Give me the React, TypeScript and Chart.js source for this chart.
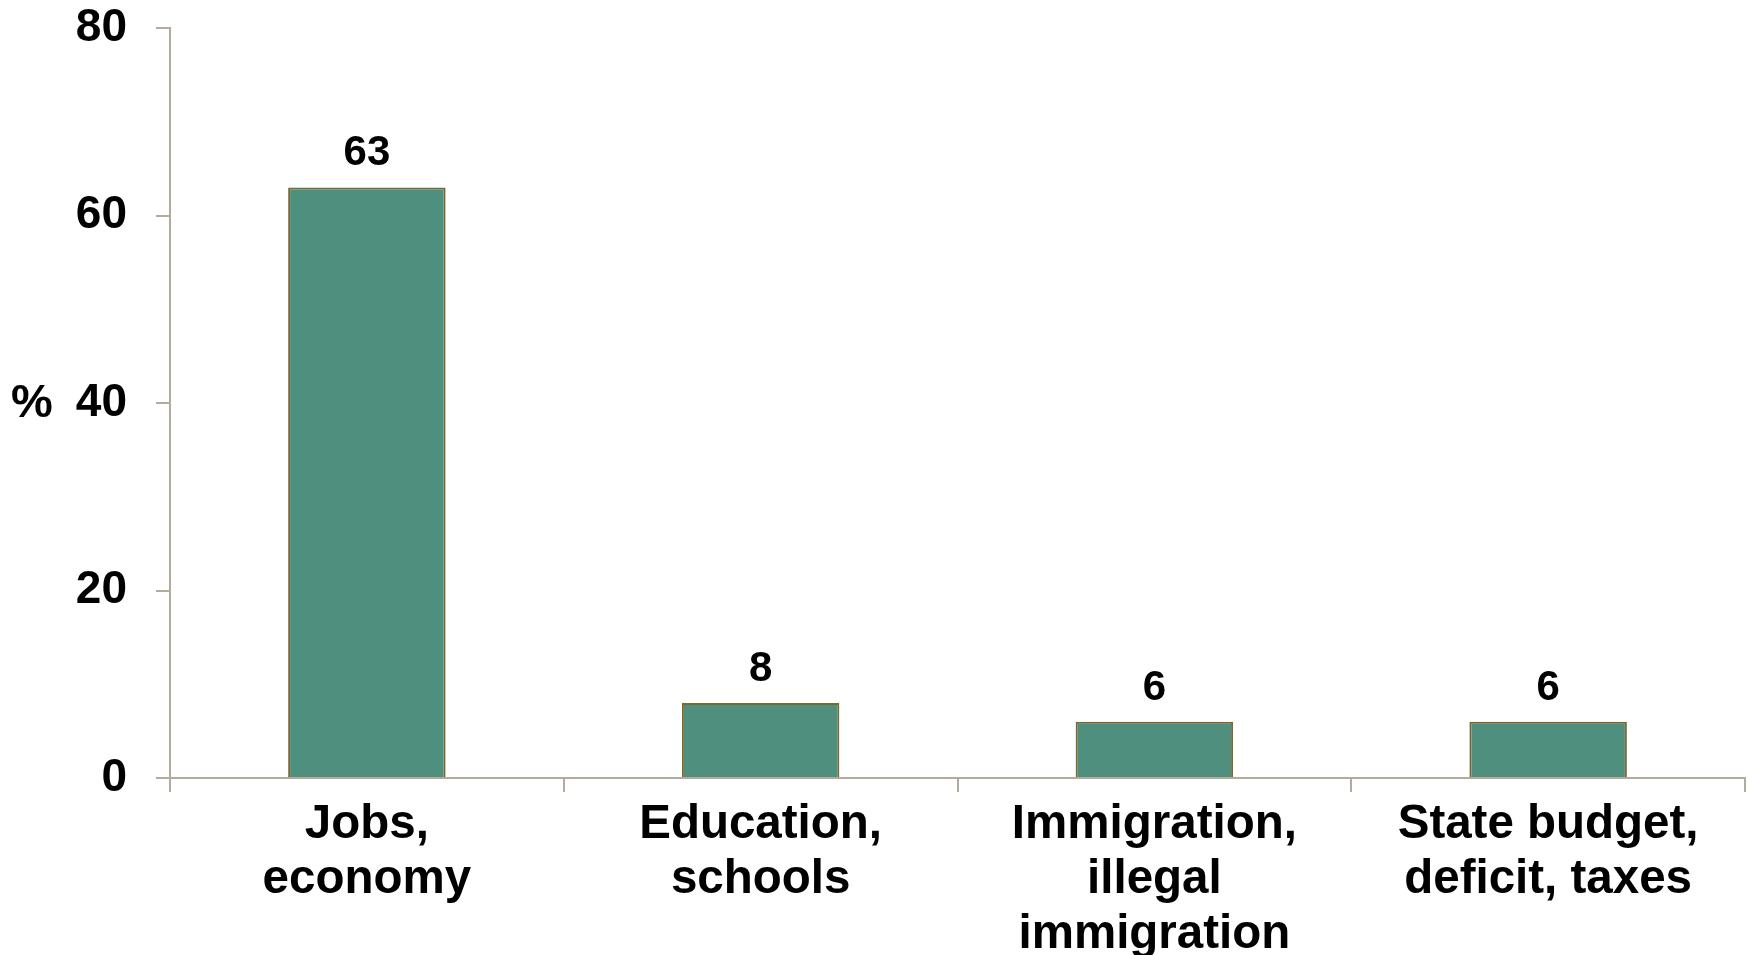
import React, { useEffect, useRef } from "react";
import { Chart, registerables } from "chart.js";

Chart.register(...registerables);

const categories: string[][] = [
  ["Jobs,", "economy"],
  ["Education,", "schools"],
  ["Immigration,", "illegal", "immigration"],
  ["State budget,", "deficit, taxes"],
];
const values: number[] = [63, 8, 6, 6];
const yTicks: number[] = [0, 20, 40, 60, 80];
const yUnitLabel = "%";

const FONT = '"Liberation Sans", Arial, Helvetica, sans-serif';
const AXIS_COLOR = "#b3ab9c";

const labelsPlugin = {
  id: "valueLabels",
  afterDatasetsDraw(chart: any) {
    const ctx = chart.ctx;
    const meta = chart.getDatasetMeta(0);
    ctx.save();
    ctx.font = `bold 42px ${FONT}`;
    ctx.fillStyle = "#000";
    ctx.textAlign = "center";
    ctx.textBaseline = "alphabetic";
    meta.data.forEach((bar: any, i: number) => {
      ctx.fillText(String(values[i]), bar.x, bar.y - 22);
    });
    // unit label next to the y axis, aligned with the 40 tick
    const yScale = chart.scales.y;
    ctx.font = `bold 47px ${FONT}`;
    ctx.textAlign = "left";
    ctx.textBaseline = "middle";
    ctx.fillText(yUnitLabel, 11, yScale.getPixelForValue(yTicks[2]) + 1);
    ctx.restore();
  },
};

export default function App() {
  const ref = useRef<HTMLCanvasElement | null>(null);

  useEffect(() => {
    if (!ref.current) return;
    const chart = new Chart(ref.current, {
      type: "bar",
      data: {
        labels: categories,
        datasets: [
          {
            data: values,
            backgroundColor: "#4f8f7d",
            borderColor: "#7a6833",
            borderWidth: 2,
            borderSkipped: "bottom",
            categoryPercentage: 1,
            barPercentage: 0.4,
          },
        ],
      },
      options: {
        animation: false,
        responsive: false,
        devicePixelRatio: 1,
        layout: { padding: { top: 28, right: 3, left: 0, bottom: 0 } },
        plugins: {
          legend: { display: false },
          tooltip: { enabled: false },
        },
        scales: {
          x: {
            grid: {
              display: true,
              drawOnChartArea: false,
              drawTicks: true,
              tickLength: 14,
              color: AXIS_COLOR,
              lineWidth: 2,
              offset: true,
            },
            border: { display: true, color: AXIS_COLOR, width: 2 },
            ticks: {
              color: "#000",
              font: { family: FONT, size: 47.5, weight: "bold", lineHeight: 1.16 },
              padding: 5,
              maxRotation: 0,
              minRotation: 0,
              autoSkip: false,
            },
            afterFit: (scale: any) => {
              scale.height = 177;
              scale.paddingLeft = 0;
              scale.paddingRight = 0;
            },
          },
          y: {
            min: 0,
            max: 80,
            afterBuildTicks: (scale: any) => {
              scale.ticks = yTicks.map((v) => ({ value: v }));
            },
            grid: {
              display: true,
              drawOnChartArea: false,
              drawTicks: true,
              tickLength: 14,
              color: AXIS_COLOR,
              lineWidth: 2,
            },
            border: { display: true, color: AXIS_COLOR, width: 2 },
            ticks: {
              color: "#000",
              font: { family: FONT, size: 46, weight: "bold", lineHeight: 1 },
              padding: 29,
            },
            afterFit: (scale: any) => {
              scale.width = 170;
              scale.paddingTop = 0;
              scale.paddingBottom = 0;
            },
          },
        },
      },
      plugins: [labelsPlugin],
    });
    return () => chart.destroy();
  }, []);

  return (
    <div style={{ position: "absolute", left: 0, top: 0, width: 1748, height: 955, background: "#fff" }}>
      <canvas ref={ref} width={1748} height={955} style={{ display: "block" }} />
    </div>
  );
}
